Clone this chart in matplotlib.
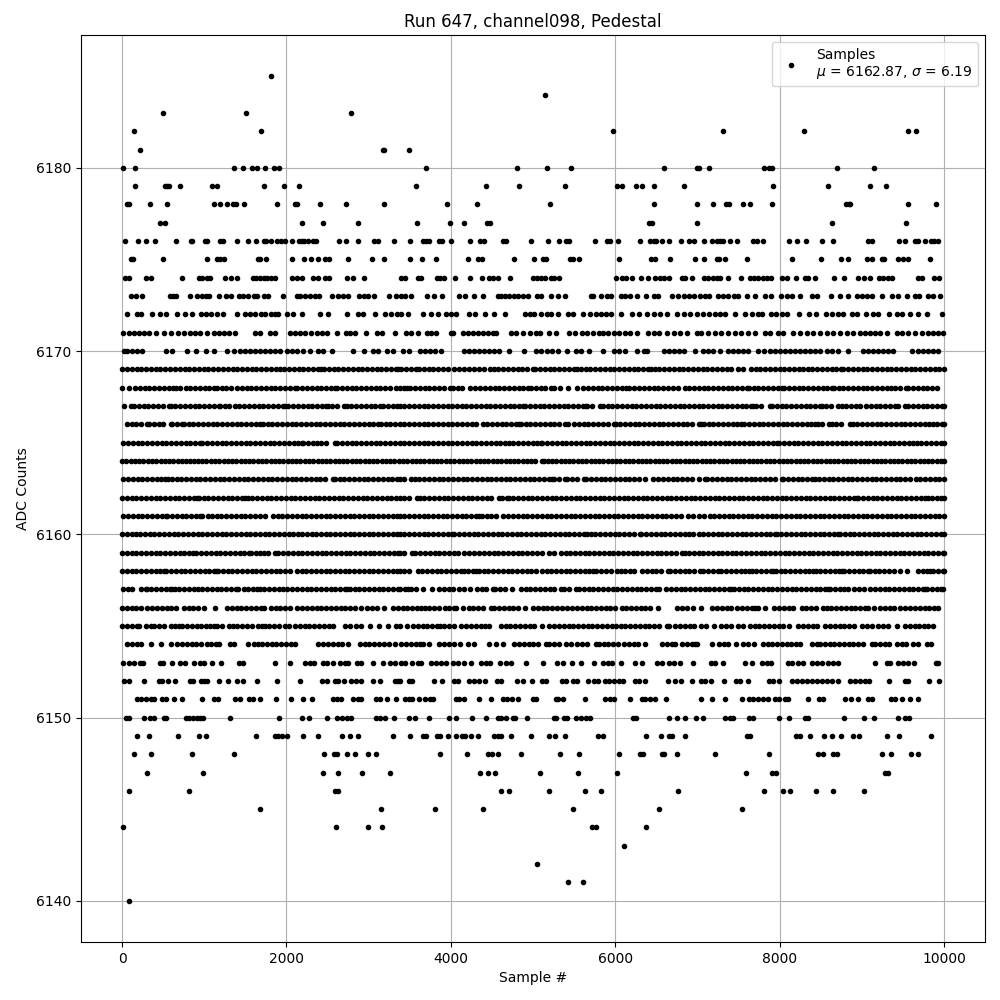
# -*- coding: utf-8 -*-
import matplotlib
matplotlib.use("Agg")
import matplotlib.pyplot as plt

# sample numbers, one list per ADC level
x_185 = [1806]
x_184 = [5151]
x_183 = [497, 1503, 2788]
x_182 = [145, 1685, 5976, 7318, 8292, 9567, 9656]
x_181 = [218, 3171, 3185, 3491]
x_180 = [12, 158, 1357, 1470, 1576, 1640, 1745, 1850, 1907, 3697, 4800, 5176, 5467, 6594, 7001, 7017, 7147, 7813, 7874, 7903, 8694, 9145]
x_179 = [158, 517, 541, 566, 703, 1091, 1151, 1721, 1976, 2157, 3576, 4424, 4824, 5394, 6024, 6077, 6254, 6327, 6472, 6836, 7915, 8585, 9096, 9291]
x_178 = [57, 89, 339, 545, 1115, 1188, 1273, 1345, 1382, 1479, 1879, 2105, 2133, 2412, 2727, 3188, 3952, 4315, 5212, 6472, 6994, 7196, 7354, 7391, 7557, 7635, 7903, 8808, 8840, 8857, 9567, 9900]
x_177 = [461, 521, 2194, 2448, 2872, 3588, 3988, 4158, 4436, 4477, 6408, 6448, 6994, 8633, 9535]
x_176 = [36, 194, 291, 400, 654, 840, 856, 1006, 1034, 1196, 1228, 1394, 1527, 1624, 1721, 1749, 1806, 1879, 1931, 1988, 2073, 2153, 2186, 2214, 2266, 2327, 2359, 2642, 2719, 2872, 3062, 3115, 3309, 3503, 3661, 3701, 3733, 3855, 3891, 4000, 4230, 4351, 4408, 4630, 4671, 4970, 5184, 5321, 5398, 5438, 5757, 5903, 5931, 6036, 6303, 6428, 6468, 6497, 6570, 6654, 6800, 6901, 6953, 7082, 7180, 7233, 7273, 7314, 7403, 7488, 7679, 7720, 7801, 8118, 8207, 8325, 8512, 8646, 9080, 9120, 9457, 9527, 9648, 9689, 9770, 9843, 9884, 9933]
x_175 = [105, 137, 497, 1030, 1155, 1196, 1244, 1648, 1681, 1757, 2073, 2218, 2303, 2388, 2473, 2521, 2751, 3042, 3188, 3503, 3648, 3818, 4206, 4327, 4380, 4764, 5018, 5123, 5155, 5446, 5487, 5559, 6048, 6436, 6489, 6666, 6973, 7086, 7245, 7261, 7342, 7610, 8146, 8499, 8743, 8828, 9068, 9120, 9243, 9272, 9437, 9506, 9567, 9831]
x_174 = [32, 85, 287, 356, 735, 933, 974, 1034, 1075, 1248, 1321, 1394, 1592, 1632, 1673, 1721, 1761, 1810, 1862, 2073, 2133, 2186, 2319, 2388, 2473, 2521, 2739, 2812, 2941, 3398, 3438, 3600, 3640, 3830, 3871, 3923, 4048, 4230, 4376, 4461, 4509, 4574, 4715, 5006, 5054, 5095, 5143, 5216, 5256, 5317, 6012, 6085, 6137, 6206, 6315, 6400, 6481, 6549, 6598, 6654, 6812, 6853, 6933, 7082, 7131, 7192, 7233, 7281, 7367, 7529, 7639, 7687, 7740, 7801, 7842, 7894, 8024, 8085, 8195, 8309, 8349, 8426, 8658, 8784, 8950, 9023, 9096, 9210, 9263, 9324, 9372, 9681, 9730, 9876, 9941]
x_173 = [113, 166, 242, 582, 622, 654, 824, 913, 978, 1018, 1058, 1176, 1260, 1325, 1418, 1470, 1527, 1600, 1640, 1721, 1774, 1963, 2125, 2165, 2230, 2287, 2347, 2400, 2557, 2630, 2683, 2751, 2885, 2941, 2998, 3062, 3248, 3337, 3398, 3438, 3519, 3709, 3794, 3891, 4105, 4178, 4279, 4388, 4570, 4614, 4663, 4711, 4764, 4816, 4881, 4941, 5054, 5095, 5224, 5309, 5386, 5701, 5729, 5830, 5903, 5951, 6065, 6117, 6186, 6262, 6376, 6468, 6521, 6691, 6763, 6832, 6901, 6953, 7030, 7091, 7139, 7253, 7314, 7367, 7448, 7497, 7598, 7699, 7829, 7894, 8016, 8085, 8154, 8248, 8398, 8451, 8621, 8735, 8828, 8938, 8999, 9060, 9129, 9243, 9372, 9437, 9547, 9648, 9697, 9803, 9872, 9953]
x_172 = [65, 178, 226, 360, 461, 533, 667, 764, 852, 966, 1026, 1087, 1155, 1224, 1394, 1491, 1559, 1620, 1689, 1741, 1814, 1862, 1903, 2012, 2077, 2186, 2412, 2509, 2739, 2872, 2933, 3078, 3196, 3277, 3349, 3398, 3479, 3661, 3754, 3842, 3943, 4004, 4065, 4218, 4291, 4420, 4521, 4663, 4905, 4962, 5014, 5103, 5176, 5224, 5309, 5430, 5487, 5612, 5697, 5770, 5830, 5891, 5955, 6065, 6206, 6287, 6388, 6468, 6549, 6630, 6751, 6832, 6913, 6994, 7070, 7139, 7212, 7273, 7342, 7464, 7578, 7659, 7740, 7789, 7894, 7951, 8024, 8085, 8231, 8353, 8438, 8560, 8633, 8706, 8775, 8877, 8938, 9048, 9141, 9202, 9328, 9425, 9486, 9587, 9681, 9791, 9973]
x_171 = [16, 85, 145, 206, 267, 327, 408, 509, 590, 679, 751, 824, 893, 953, 1034, 1115, 1176, 1236, 1297, 1370, 1620, 1673, 1794, 1866, 2044, 2105, 2165, 2226, 2295, 2367, 2428, 2489, 2618, 2719, 2771, 2840, 2965, 3103, 3167, 3325, 3451, 3519, 3600, 3709, 3762, 3822, 4004, 4024, 4145, 4206, 4267, 4327, 4388, 4449, 4509, 4549, 4731, 4792, 4881, 4966, 5034, 5083, 5196, 5277, 5438, 5507, 5592, 5660, 5729, 5802, 5850, 5915, 5984, 6044, 6125, 6186, 6267, 6396, 6468, 6529, 6630, 6711, 6792, 6873, 6994, 7050, 7131, 7212, 7293, 7375, 7456, 7537, 7618, 7699, 7829, 7881, 7984, 8045, 8166, 8248, 8329, 8410, 8491, 8572, 8654, 8735, 8816, 8897, 8978, 9039, 9100, 9161, 9222, 9303, 9425, 9486, 9567, 9648, 9730, 9811, 9872, 9933, 9994]
x_170 = [24, 65, 125, 186, 246, 537, 610, 792, 897, 1022, 1115, 1277, 1357, 1438, 1499, 1559, 1620, 1681, 1741, 1802, 1862, 1923, 2004, 2064, 2125, 2206, 2287, 2388, 2448, 2557, 2812, 2941, 3054, 3115, 3224, 3297, 3418, 3491, 3620, 3681, 3741, 3802, 3879, 4166, 4226, 4287, 4347, 4408, 4469, 4529, 4590, 4711, 4889, 5034, 5095, 5176, 5236, 5309, 5418, 5527, 5580, 5685, 5854, 5984, 6044, 6125, 6267, 6347, 6388, 6590, 6650, 6711, 6771, 6832, 6973, 7070, 7131, 7192, 7273, 7375, 7432, 7497, 7557, 7618, 7740, 7813, 7882, 7943, 8004, 8065, 8126, 8187, 8248, 8309, 8369, 8430, 8491, 8572, 8633, 8715, 8836, 9019, 9080, 9141, 9202, 9263, 9324, 9384, 9616, 9689, 9750, 9811, 9872, 9933]
x_169 = [0, 58, 117, 176, 230, 291, 349, 410, 466, 527, 586, 640, 702, 760, 815, 876, 933, 994, 1050, 1108, 1170, 1226, 1284, 1345, 1400, 1462, 1518, 1578, 1635, 1694, 1751, 1812, 1870, 1923, 1971, 2030, 2086, 2147, 2205, 2262, 2320, 2378, 2416, 2456, 2515, 2575, 2632, 2690, 2748, 2806, 2866, 2923, 2980, 3040, 3098, 3155, 3214, 3272, 3330, 3357, 3398, 3455, 3510, 3580, 3612, 3670, 3729, 3786, 3846, 3905, 3960, 4044, 4097, 4166, 4225, 4282, 4340, 4400, 4477, 4521, 4580, 4636, 4695, 4754, 4812, 4870, 4930, 4994, 5026, 5085, 5143, 5202, 5260, 5320, 5378, 5436, 5495, 5539, 5580, 5640, 5698, 5756, 5815, 5872, 5932, 5990, 6048, 6106, 6165, 6224, 6282, 6340, 6400, 6440, 6480, 6538, 6597, 6655, 6714, 6772, 6830, 6888, 6947, 7005, 7064, 7122, 7180, 7238, 7297, 7356, 7414, 7497, 7557, 7651, 7710, 7768, 7826, 7884, 7942, 8000, 8060, 8118, 8177, 8235, 8284, 8341, 8400, 8458, 8516, 8575, 8633, 8691, 8747, 8775, 8834, 8892, 8950, 9010, 9068, 9126, 9185, 9243, 9302, 9360, 9418, 9477, 9535, 9594, 9652, 9710, 9770, 9828, 9886, 9945, 10000]
x_168 = [4, 85, 158, 216, 274, 333, 392, 450, 508, 566, 625, 650, 699, 772, 830, 888, 946, 1005, 1063, 1122, 1155, 1216, 1260, 1325, 1398, 1456, 1514, 1572, 1630, 1690, 1748, 1806, 1865, 1923, 1982, 2040, 2105, 2133, 2192, 2250, 2310, 2368, 2426, 2484, 2542, 2590, 2618, 2676, 2735, 2793, 2852, 2910, 2968, 3027, 3085, 3144, 3202, 3264, 3329, 3378, 3430, 3467, 3507, 3566, 3624, 3682, 3740, 3800, 3858, 3916, 3984, 4024, 4082, 4140, 4234, 4299, 4358, 4416, 4474, 4532, 4590, 4650, 4708, 4766, 4825, 4883, 4941, 4974, 5034, 5092, 5150, 5216, 5260, 5333, 5430, 5539, 5612, 5670, 5728, 5787, 5845, 5904, 5962, 6020, 6078, 6136, 6174, 6234, 6292, 6350, 6408, 6467, 6526, 6584, 6642, 6700, 6763, 6844, 6902, 6960, 7018, 7077, 7135, 7194, 7252, 7310, 7368, 7426, 7485, 7543, 7598, 7626, 7685, 7743, 7802, 7860, 7918, 7976, 8032, 8057, 8116, 8174, 8232, 8290, 8350, 8408, 8466, 8524, 8583, 8641, 8662, 8720, 8778, 8838, 8896, 8954, 9012, 9070, 9130, 9188, 9246, 9304, 9356, 9405, 9460, 9535, 9567, 9626, 9684, 9742, 9800, 9860, 9912]
x_167 = [24, 105, 145, 204, 262, 320, 378, 437, 496, 570, 590, 648, 706, 765, 824, 882, 940, 998, 1057, 1115, 1176, 1196, 1250, 1297, 1370, 1428, 1487, 1545, 1604, 1662, 1720, 1778, 1836, 1895, 1953, 1984, 2024, 2082, 2140, 2199, 2258, 2316, 2374, 2432, 2481, 2501, 2560, 2618, 2703, 2731, 2790, 2848, 2906, 2965, 3023, 3082, 3135, 3176, 3234, 3292, 3350, 3378, 3436, 3494, 3552, 3610, 3669, 3728, 3786, 3844, 3902, 3960, 4016, 4073, 4132, 4190, 4248, 4306, 4365, 4424, 4482, 4540, 4598, 4656, 4715, 4773, 4832, 4873, 4905, 4964, 5022, 5080, 5138, 5197, 5256, 5314, 5372, 5430, 5488, 5547, 5606, 5640, 5660, 5720, 5810, 5850, 5908, 5966, 6025, 6084, 6142, 6200, 6258, 6316, 6375, 6434, 6492, 6550, 6608, 6666, 6725, 6784, 6842, 6900, 6958, 7014, 7072, 7130, 7188, 7246, 7305, 7364, 7422, 7480, 7538, 7596, 7655, 7679, 7711, 7770, 7882, 7910, 7968, 8026, 8084, 8142, 8200, 8260, 8318, 8376, 8434, 8491, 8512, 8570, 8628, 8715, 8755, 8813, 8872, 8930, 8978, 9052, 9110, 9168, 9226, 9284, 9342, 9400, 9445, 9527, 9567, 9626, 9684, 9742, 9800, 9858, 9916, 9975, 10000]
x_166 = [57, 115, 174, 232, 307, 327, 386, 444, 502, 590, 610, 668, 723, 751, 810, 868, 926, 985, 1044, 1102, 1160, 1218, 1276, 1335, 1394, 1452, 1510, 1568, 1626, 1681, 1713, 1772, 1830, 1888, 1946, 2005, 2064, 2122, 2180, 2238, 2296, 2355, 2414, 2472, 2530, 2588, 2646, 2705, 2764, 2822, 2880, 2938, 3006, 3054, 3115, 3147, 3206, 3264, 3322, 3378, 3436, 3495, 3554, 3612, 3670, 3728, 3786, 3845, 3904, 3962, 4020, 4078, 4136, 4195, 4254, 4312, 4388, 4436, 4501, 4560, 4618, 4676, 4734, 4792, 4824, 4852, 4910, 4968, 5026, 5085, 5144, 5202, 5260, 5318, 5390, 5422, 5499, 5558, 5616, 5674, 5732, 5790, 5850, 5908, 5984, 6004, 6062, 6120, 6178, 6236, 6295, 6354, 6412, 6470, 6528, 6586, 6645, 6704, 6762, 6820, 6878, 6936, 7014, 7042, 7078, 7136, 7194, 7252, 7310, 7369, 7428, 7486, 7537, 7570, 7628, 7686, 7744, 7802, 7860, 7920, 7978, 8036, 8094, 8152, 8211, 8270, 8328, 8386, 8430, 8463, 8522, 8601, 8633, 8692, 8750, 8857, 8889, 8948, 9006, 9064, 9122, 9180, 9240, 9298, 9356, 9414, 9472, 9530, 9590, 9648, 9706, 9764, 9819, 9864, 9922, 9980, 10000]
x_165 = [16, 74, 132, 190, 248, 306, 365, 424, 482, 540, 598, 656, 715, 774, 832, 890, 953, 978, 1036, 1095, 1154, 1212, 1270, 1328, 1386, 1445, 1504, 1562, 1620, 1678, 1736, 1795, 1854, 1912, 1970, 2028, 2086, 2145, 2186, 2206, 2265, 2319, 2367, 2426, 2484, 2590, 2618, 2676, 2734, 2793, 2852, 2910, 2968, 3026, 3084, 3143, 3202, 3260, 3318, 3378, 3436, 3495, 3554, 3612, 3670, 3728, 3786, 3845, 3904, 3962, 4020, 4078, 4136, 4195, 4254, 4312, 4370, 4428, 4486, 4545, 4604, 4663, 4703, 4762, 4820, 4878, 4936, 4995, 5054, 5095, 5115, 5174, 5232, 5290, 5348, 5406, 5465, 5524, 5582, 5640, 5698, 5756, 5815, 5874, 5932, 5990, 6048, 6106, 6165, 6224, 6282, 6340, 6398, 6456, 6515, 6574, 6632, 6690, 6748, 6806, 6865, 6924, 6982, 7040, 7098, 7156, 7215, 7274, 7332, 7390, 7448, 7506, 7565, 7624, 7682, 7740, 7798, 7856, 7915, 7963, 7996, 8055, 8114, 8172, 8230, 8288, 8346, 8405, 8464, 8522, 8580, 8638, 8696, 8755, 8814, 8872, 8930, 8988, 9046, 9105, 9164, 9222, 9280, 9338, 9396, 9455, 9514, 9572, 9628, 9668, 9726, 9785, 9844, 9902, 9960, 10000]
x_164 = [0, 52, 104, 156, 208, 260, 312, 364, 416, 468, 520, 572, 624, 676, 728, 780, 832, 870, 922, 974, 1026, 1078, 1130, 1182, 1234, 1286, 1338, 1390, 1442, 1494, 1546, 1598, 1650, 1702, 1754, 1806, 1858, 1910, 1962, 2014, 2066, 2118, 2170, 2222, 2274, 2326, 2378, 2430, 2482, 2534, 2586, 2638, 2690, 2742, 2794, 2846, 2898, 2950, 3002, 3054, 3106, 3158, 3210, 3262, 3314, 3366, 3418, 3470, 3522, 3574, 3626, 3678, 3730, 3782, 3834, 3886, 3938, 3990, 4042, 4094, 4146, 4198, 4250, 4302, 4354, 4406, 4458, 4510, 4562, 4614, 4666, 4718, 4770, 4822, 4874, 4926, 4978, 5030, 5105, 5128, 5180, 5232, 5284, 5336, 5388, 5440, 5492, 5544, 5596, 5648, 5700, 5752, 5804, 5856, 5908, 5960, 6012, 6064, 6116, 6168, 6220, 6272, 6324, 6376, 6428, 6480, 6532, 6584, 6636, 6688, 6740, 6792, 6844, 6896, 6948, 7000, 7052, 7104, 7156, 7208, 7260, 7312, 7364, 7416, 7468, 7520, 7572, 7624, 7676, 7728, 7780, 7832, 7884, 7936, 7988, 8040, 8092, 8144, 8196, 8248, 8300, 8352, 8404, 8456, 8508, 8560, 8612, 8664, 8716, 8768, 8820, 8872, 8924, 8976, 9028, 9080, 9132, 9184, 9236, 9288, 9340, 9392, 9444, 9496, 9548, 9600, 9652, 9704, 9756, 9808, 9860, 9912, 9964, 10000]
x_163 = [16, 74, 132, 190, 248, 306, 365, 424, 469, 517, 560, 610, 663, 721, 780, 838, 896, 954, 1012, 1070, 1129, 1188, 1246, 1304, 1362, 1420, 1479, 1538, 1596, 1654, 1712, 1770, 1829, 1888, 1946, 2004, 2062, 2120, 2179, 2238, 2296, 2354, 2412, 2470, 2561, 2590, 2648, 2706, 2765, 2824, 2882, 2940, 2998, 3056, 3115, 3174, 3232, 3290, 3348, 3378, 3436, 3519, 3560, 3618, 3676, 3735, 3794, 3852, 3910, 3968, 4026, 4085, 4144, 4202, 4260, 4318, 4376, 4435, 4494, 4552, 4610, 4668, 4726, 4785, 4844, 4902, 4960, 5018, 5076, 5135, 5194, 5236, 5256, 5316, 5386, 5418, 5476, 5534, 5620, 5648, 5706, 5764, 5822, 5880, 5939, 5998, 6056, 6114, 6172, 6230, 6289, 6367, 6465, 6524, 6582, 6640, 6698, 6756, 6815, 6874, 6932, 7014, 7091, 7123, 7182, 7240, 7298, 7356, 7414, 7473, 7532, 7590, 7648, 7706, 7764, 7823, 7882, 7940, 8024, 8045, 8104, 8162, 8220, 8278, 8336, 8390, 8430, 8479, 8538, 8596, 8654, 8712, 8770, 8828, 8887, 8946, 9004, 9062, 9120, 9178, 9237, 9296, 9354, 9412, 9470, 9528, 9587, 9656, 9714, 9772, 9830, 9888, 9946, 10000]
x_162 = [0, 58, 116, 174, 232, 290, 349, 408, 466, 524, 582, 640, 698, 757, 816, 874, 913, 933, 992, 1050, 1108, 1166, 1224, 1283, 1342, 1400, 1458, 1499, 1527, 1586, 1644, 1702, 1760, 1818, 1877, 1936, 1994, 2052, 2110, 2168, 2227, 2286, 2344, 2402, 2460, 2518, 2577, 2636, 2694, 2752, 2810, 2868, 2927, 2986, 3044, 3102, 3160, 3218, 3277, 3336, 3378, 3436, 3494, 3588, 3620, 3678, 3736, 3795, 3854, 3912, 3970, 4028, 4086, 4145, 4204, 4262, 4320, 4378, 4436, 4495, 4582, 4622, 4680, 4711, 4760, 4818, 4876, 4934, 4993, 5052, 5110, 5168, 5226, 5284, 5343, 5402, 5460, 5518, 5576, 5634, 5693, 5752, 5810, 5868, 5926, 5984, 6043, 6102, 6160, 6218, 6276, 6334, 6393, 6452, 6510, 6568, 6626, 6684, 6743, 6802, 6860, 6918, 6976, 7034, 7093, 7152, 7210, 7268, 7326, 7384, 7443, 7502, 7560, 7618, 7676, 7734, 7793, 7852, 7910, 7968, 8026, 8084, 8143, 8202, 8260, 8318, 8376, 8434, 8493, 8552, 8610, 8668, 8726, 8784, 8843, 8902, 8938, 8958, 9016, 9074, 9132, 9191, 9250, 9308, 9366, 9424, 9482, 9541, 9600, 9658, 9716, 9774, 9803, 9852, 9910, 9968, 10000]
x_161 = [16, 74, 132, 190, 248, 306, 365, 424, 482, 529, 549, 608, 666, 724, 782, 840, 899, 953, 974, 1042, 1091, 1150, 1208, 1266, 1324, 1382, 1441, 1500, 1558, 1616, 1681, 1741, 1834, 1892, 1950, 2009, 2068, 2126, 2184, 2242, 2300, 2359, 2418, 2476, 2534, 2592, 2650, 2709, 2768, 2826, 2884, 2942, 3000, 3059, 3118, 3176, 3234, 3292, 3350, 3378, 3436, 3494, 3552, 3611, 3670, 3728, 3782, 3840, 3899, 3958, 4016, 4074, 4132, 4190, 4249, 4308, 4347, 4376, 4435, 4494, 4552, 4630, 4699, 4758, 4816, 4874, 4932, 4990, 5049, 5108, 5166, 5224, 5282, 5340, 5399, 5458, 5516, 5574, 5632, 5690, 5749, 5808, 5866, 5924, 5982, 6040, 6099, 6158, 6216, 6274, 6332, 6390, 6449, 6508, 6566, 6624, 6682, 6740, 6800, 6880, 6950, 7020, 7078, 7151, 7204, 7262, 7320, 7379, 7438, 7496, 7554, 7612, 7670, 7729, 7788, 7846, 7904, 7962, 8020, 8079, 8138, 8196, 8254, 8312, 8370, 8429, 8488, 8546, 8604, 8662, 8720, 8779, 8838, 8896, 8954, 9012, 9070, 9129, 9188, 9246, 9304, 9362, 9420, 9479, 9538, 9596, 9654, 9712, 9770, 9829, 9888, 9946, 10000]
x_160 = [0, 58, 125, 166, 218, 276, 334, 393, 452, 510, 568, 626, 684, 743, 802, 860, 918, 976, 1034, 1093, 1152, 1210, 1268, 1326, 1384, 1443, 1502, 1560, 1618, 1676, 1734, 1793, 1852, 1910, 1968, 2026, 2084, 2145, 2186, 2250, 2311, 2359, 2418, 2476, 2534, 2592, 2650, 2709, 2768, 2826, 2884, 2942, 3000, 3059, 3118, 3176, 3234, 3292, 3350, 3378, 3436, 3495, 3554, 3612, 3670, 3728, 3786, 3845, 3904, 3962, 4016, 4044, 4102, 4160, 4219, 4278, 4336, 4394, 4452, 4510, 4569, 4628, 4686, 4744, 4802, 4860, 4919, 4978, 5036, 5094, 5152, 5210, 5269, 5328, 5386, 5444, 5502, 5560, 5619, 5660, 5701, 5760, 5818, 5876, 5934, 5993, 6052, 6110, 6168, 6226, 6307, 6319, 6378, 6436, 6494, 6552, 6610, 6669, 6728, 6786, 6852, 6893, 6951, 7014, 7072, 7130, 7188, 7246, 7305, 7364, 7422, 7480, 7538, 7596, 7655, 7714, 7772, 7830, 7888, 7943, 7963, 8022, 8080, 8138, 8196, 8255, 8314, 8372, 8430, 8488, 8546, 8605, 8664, 8706, 8735, 8794, 8852, 8910, 8968, 9026, 9085, 9144, 9202, 9260, 9318, 9376, 9435, 9494, 9552, 9610, 9668, 9726, 9785, 9844, 9902, 9960, 10000]
x_159 = [0, 58, 116, 174, 232, 291, 350, 408, 466, 524, 582, 641, 700, 758, 816, 865, 905, 964, 1022, 1080, 1138, 1197, 1256, 1314, 1372, 1430, 1488, 1539, 1568, 1626, 1684, 1721, 1774, 1862, 1903, 1962, 2020, 2078, 2136, 2195, 2254, 2312, 2370, 2428, 2486, 2545, 2604, 2662, 2720, 2778, 2836, 2895, 2954, 3012, 3070, 3128, 3186, 3245, 3304, 3362, 3378, 3436, 3531, 3568, 3626, 3684, 3743, 3802, 3860, 3918, 3976, 4034, 4093, 4166, 4218, 4287, 4346, 4404, 4462, 4520, 4578, 4637, 4696, 4754, 4812, 4870, 4928, 4987, 5046, 5104, 5196, 5256, 5337, 5396, 5454, 5512, 5570, 5628, 5687, 5746, 5804, 5862, 5920, 5978, 6037, 6096, 6154, 6212, 6270, 6328, 6387, 6446, 6504, 6562, 6620, 6678, 6737, 6812, 6844, 6902, 6960, 7014, 7072, 7130, 7188, 7246, 7305, 7364, 7422, 7468, 7537, 7596, 7654, 7712, 7770, 7828, 7887, 7946, 8004, 8062, 8120, 8178, 8237, 8296, 8354, 8412, 8470, 8528, 8587, 8646, 8704, 8762, 8820, 8878, 8937, 8996, 9054, 9112, 9170, 9228, 9287, 9346, 9404, 9462, 9520, 9578, 9637, 9696, 9754, 9812, 9870, 9928, 9987, 10000]
x_158 = [0, 58, 116, 174, 232, 290, 349, 408, 466, 509, 537, 596, 654, 712, 770, 828, 887, 946, 1004, 1062, 1120, 1147, 1168, 1226, 1284, 1342, 1401, 1460, 1518, 1576, 1634, 1692, 1751, 1810, 1868, 1926, 1984, 2044, 2125, 2184, 2242, 2300, 2358, 2417, 2476, 2534, 2592, 2650, 2708, 2767, 2826, 2884, 2942, 3000, 3058, 3117, 3176, 3234, 3292, 3350, 3378, 3436, 3494, 3600, 3653, 3712, 3770, 3828, 3886, 3945, 4004, 4062, 4120, 4166, 4206, 4265, 4307, 4339, 4398, 4456, 4514, 4572, 4631, 4690, 4748, 4806, 4864, 4922, 4981, 5034, 5107, 5166, 5224, 5285, 5337, 5396, 5454, 5512, 5570, 5628, 5687, 5733, 5770, 5828, 5886, 5945, 6024, 6065, 6124, 6186, 6234, 6327, 6386, 6444, 6502, 6560, 6642, 6670, 6729, 6788, 6846, 6904, 6962, 7030, 7070, 7128, 7186, 7253, 7293, 7352, 7410, 7468, 7526, 7584, 7626, 7659, 7718, 7776, 7834, 7892, 7923, 7955, 8014, 8072, 8130, 8188, 8246, 8305, 8364, 8410, 8438, 8496, 8554, 8612, 8670, 8729, 8755, 8788, 8846, 8904, 8962, 9020, 9072, 9100, 9158, 9216, 9275, 9334, 9392, 9466, 9547, 9681, 9740, 9798, 9831, 9872, 9930, 9988, 10000]
x_157 = [16, 70, 125, 226, 285, 307, 355, 414, 472, 530, 588, 610, 638, 696, 754, 812, 870, 929, 974, 1034, 1092, 1150, 1208, 1267, 1326, 1384, 1406, 1479, 1538, 1596, 1640, 1673, 1732, 1790, 1848, 1906, 1955, 2012, 2070, 2128, 2186, 2246, 2304, 2362, 2420, 2478, 2537, 2596, 2654, 2712, 2731, 2771, 2830, 2888, 2946, 3004, 3062, 3121, 3180, 3238, 3297, 3355, 3378, 3437, 3479, 3519, 3578, 3661, 3774, 3855, 3914, 3972, 4030, 4097, 4158, 4234, 4315, 4374, 4432, 4509, 4541, 4600, 4658, 4743, 4852, 4910, 4968, 5026, 5085, 5144, 5202, 5260, 5337, 5378, 5436, 5519, 5560, 5618, 5676, 5734, 5793, 5852, 5910, 5968, 6026, 6084, 6143, 6202, 6260, 6318, 6376, 6434, 6493, 6529, 6622, 6680, 6738, 6796, 6855, 6914, 6972, 7030, 7088, 7146, 7205, 7264, 7322, 7380, 7415, 7448, 7506, 7564, 7622, 7681, 7740, 7798, 7856, 7914, 7972, 8031, 8090, 8148, 8206, 8264, 8322, 8381, 8440, 8498, 8556, 8593, 8613, 8672, 8730, 8788, 8836, 8905, 8964, 9022, 9100, 9161, 9220, 9278, 9336, 9394, 9452, 9511, 9570, 9628, 9686, 9744, 9770, 9795, 9854, 9912, 9970, 9994]
x_156 = [0, 58, 116, 174, 232, 307, 368, 426, 484, 542, 598, 654, 751, 810, 868, 926, 994, 1131, 1277, 1336, 1394, 1452, 1510, 1569, 1628, 1686, 1721, 1810, 1868, 1926, 1984, 2044, 2133, 2192, 2250, 2308, 2366, 2425, 2484, 2542, 2600, 2658, 2716, 2775, 2834, 2913, 2981, 3040, 3103, 3188, 3297, 3356, 3414, 3472, 3530, 3589, 3640, 3681, 3740, 3798, 3856, 3931, 3976, 4034, 4065, 4145, 4226, 4275, 4334, 4392, 4489, 4529, 4588, 4646, 4704, 4762, 4820, 4905, 5002, 5060, 5118, 5176, 5235, 5294, 5358, 5418, 5476, 5534, 5592, 5651, 5710, 5768, 5826, 5884, 5942, 5996, 6077, 6136, 6194, 6252, 6310, 6368, 6427, 6521, 6751, 6810, 6868, 6941, 7050, 7180, 7239, 7298, 7356, 7415, 7488, 7546, 7604, 7662, 7699, 7740, 7829, 7935, 7994, 8052, 8110, 8166, 8268, 8326, 8385, 8444, 8532, 8572, 8630, 8688, 8746, 8805, 8864, 8922, 8980, 9038, 9080, 9145, 9222, 9280, 9338, 9396, 9466, 9527, 9587, 9648, 9706, 9764, 9822, 9880, 9925]
x_155 = [4, 62, 120, 178, 206, 287, 347, 388, 446, 504, 590, 638, 691, 731, 790, 848, 906, 964, 1022, 1075, 1115, 1155, 1216, 1297, 1345, 1398, 1456, 1514, 1580, 1648, 1706, 1741, 1790, 1848, 1906, 1984, 2036, 2105, 2164, 2222, 2280, 2338, 2396, 2455, 2514, 2570, 2711, 2770, 2852, 2913, 3014, 3127, 3236, 3337, 3378, 3467, 3539, 3598, 3656, 3714, 3772, 3830, 3871, 3923, 3982, 4040, 4125, 4186, 4246, 4305, 4364, 4422, 4469, 4610, 4668, 4726, 4785, 4844, 4902, 4960, 5018, 5115, 5196, 5256, 5315, 5374, 5432, 5490, 5548, 5607, 5666, 5724, 5782, 5840, 5898, 5957, 6016, 6065, 6125, 6184, 6242, 6300, 6358, 6416, 6475, 6534, 6630, 6654, 6731, 6790, 6848, 6906, 6953, 7050, 7108, 7204, 7293, 7352, 7415, 7497, 7557, 7639, 7698, 7756, 7814, 7872, 7930, 7989, 8045, 8114, 8227, 8286, 8344, 8402, 8460, 8552, 8613, 8672, 8730, 8788, 8846, 8904, 8999, 9060, 9120, 9202, 9260, 9324, 9425, 9527, 9586, 9644, 9702, 9760, 9811, 9872]
x_154 = [65, 124, 182, 226, 347, 469, 598, 671, 730, 788, 846, 904, 962, 1034, 1083, 1142, 1176, 1309, 1357, 1531, 1600, 1658, 1701, 1762, 1820, 1878, 1936, 1995, 2054, 2105, 2388, 2446, 2505, 2564, 2622, 2680, 2751, 2893, 2952, 3010, 3068, 3126, 3185, 3244, 3317, 3398, 3456, 3514, 3572, 3620, 3661, 3733, 3855, 3914, 3976, 4036, 4117, 4206, 4287, 4469, 4549, 4634, 4772, 4830, 4888, 4946, 5005, 5064, 5155, 5196, 5254, 5312, 5398, 5458, 5539, 5600, 5658, 5762, 5802, 5860, 5918, 5976, 6035, 6105, 6166, 6224, 6282, 6368, 6569, 6628, 6686, 6731, 6812, 6873, 6932, 6969, 6994, 7184, 7261, 7320, 7378, 7476, 7557, 7616, 7691, 7793, 7854, 7912, 7970, 8028, 8086, 8145, 8204, 8248, 8390, 8451, 8491, 8550, 8608, 8666, 8724, 8782, 8841, 8897, 8958, 9016, 9120, 9161, 9220, 9278, 9336, 9425, 9486, 9544, 9628, 9689, 9791, 9843]
x_153 = [12, 85, 145, 218, 259, 461, 501, 606, 703, 764, 869, 953, 1002, 1091, 1200, 1418, 1470, 1866, 2048, 2226, 2287, 2335, 2440, 2489, 2570, 2650, 2711, 2751, 2860, 2913, 3054, 3171, 3256, 3317, 3398, 3438, 3527, 3600, 3640, 3762, 3822, 3883, 3943, 4024, 4085, 4166, 4246, 4368, 4428, 4477, 4594, 4671, 4731, 4909, 5127, 5297, 5366, 5479, 5580, 5741, 5854, 5911, 5963, 6065, 6242, 6327, 6509, 6569, 6650, 6711, 6792, 6945, 7172, 7212, 7318, 7574, 7659, 7789, 7842, 7894, 8097, 8154, 8219, 8288, 8398, 8451, 8512, 8585, 8654, 8715, 9157, 9303, 9344, 9445, 9506, 9567, 9640, 9900, 9933]
x_152 = [24, 85, 267, 449, 481, 562, 642, 824, 865, 962, 1002, 1034, 1176, 1285, 1394, 1475, 1636, 1879, 2170, 2432, 2497, 2590, 2630, 2699, 2780, 2844, 2913, 3054, 3139, 3317, 3357, 3378, 3491, 3531, 3794, 3891, 4044, 4085, 4226, 4287, 4347, 4412, 4557, 4610, 4800, 4873, 4990, 5107, 5155, 5358, 5398, 5487, 5531, 5673, 5741, 5790, 5871, 5923, 5984, 6044, 6093, 6246, 6287, 6368, 6642, 6731, 6800, 6940, 7050, 7099, 7160, 7322, 7476, 7517, 7618, 7874, 7923, 7992, 8146, 8207, 8268, 8329, 8390, 8451, 8512, 8572, 8633, 8715, 8857, 8918, 8978, 9039, 9092, 9336, 9527, 9567, 9815, 9937]
x_151 = [186, 226, 295, 347, 388, 489, 537, 630, 727, 974, 1115, 1164, 1378, 1430, 1539, 1588, 1673, 1875, 2060, 2206, 2315, 2570, 2610, 2658, 2812, 2873, 2913, 3095, 3135, 3224, 3329, 3438, 3487, 3531, 3612, 3681, 3741, 3782, 4065, 4097, 4158, 4339, 4485, 4630, 4679, 4743, 4812, 5002, 5034, 5277, 5309, 5366, 5636, 5879, 5943, 5984, 6182, 6327, 6359, 6428, 6481, 6618, 7050, 7184, 7342, 7549, 7626, 7679, 7740, 7801, 7862, 7943, 7992, 8065, 8106, 8341, 8483, 8532, 8791, 8865, 8958, 9072, 9120, 9352, 9405, 9486, 9583, 9681]
x_150 = [44, 85, 267, 339, 388, 509, 537, 772, 812, 865, 913, 953, 982, 1313, 1915, 2194, 2279, 2489, 2610, 2679, 2731, 2780, 3095, 3143, 3196, 3305, 3491, 3560, 3733, 3976, 4065, 4255, 4428, 4570, 4610, 4671, 4751, 4784, 4921, 5256, 5285, 5378, 5418, 5519, 5580, 5640, 5689, 6222, 6258, 6654, 6751, 6848, 6989, 7074, 7334, 7395, 7436, 7630, 7679, 7988, 8110, 8309, 8341, 8780, 9023, 9145, 9437, 9527, 9575]
x_149 = [182, 331, 679, 933, 1018, 1624, 1862, 1895, 1943, 2012, 2206, 2380, 2679, 2771, 2873, 3297, 3503, 3661, 3693, 3830, 3863, 3964, 4060, 4133, 4174, 4242, 4327, 4529, 4570, 4610, 4727, 4970, 5200, 5273, 5394, 5794, 5854, 6376, 6557, 6650, 6691, 6852, 7598, 7639, 8195, 8248, 8365, 8536, 8633, 8743, 8897, 8966, 9303, 9449, 9839]
x_148 = [145, 351, 848, 1357, 2460, 2578, 2618, 2739, 2828, 2994, 3091, 3867, 4194, 4449, 4497, 4570, 4848, 5333, 5564, 6048, 6307, 6335, 6570, 6590, 6751, 7220, 7866, 8471, 8532, 8654, 8702, 9242, 9352, 9596, 9681]
x_147 = [303, 982, 2448, 2630, 2921, 3260, 4351, 4449, 4533, 5091, 5551, 6024, 7586, 7903, 7951, 9283, 9324]
x_146 = [85, 812, 2590, 2630, 4606, 4703, 5200, 5636, 5830, 6763, 7805, 8037, 8122, 8438, 8646, 9023]
x_145 = [1673, 3151, 3806, 4388, 5491, 6533, 7549]
x_144 = [12, 2606, 2994, 3163, 5721, 5762, 6376]
x_143 = [6109]
x_142 = [5054]
x_141 = [5430, 5612]
x_140 = [85]

samples = {6185: x_185, 6184: x_184, 6183: x_183, 6182: x_182, 6181: x_181, 6180: x_180,
           6179: x_179, 6178: x_178, 6177: x_177, 6176: x_176, 6175: x_175, 6174: x_174,
           6173: x_173, 6172: x_172, 6171: x_171, 6170: x_170, 6169: x_169, 6168: x_168,
           6167: x_167, 6166: x_166, 6165: x_165, 6164: x_164, 6163: x_163, 6162: x_162,
           6161: x_161, 6160: x_160, 6159: x_159, 6158: x_158, 6157: x_157, 6156: x_156,
           6155: x_155, 6154: x_154, 6153: x_153, 6152: x_152, 6151: x_151, 6150: x_150,
           6149: x_149, 6148: x_148, 6147: x_147, 6146: x_146, 6145: x_145, 6144: x_144,
           6143: x_143, 6142: x_142, 6141: x_141, 6140: x_140}

xs = []
ys = []
for level, row in samples.items():
    xs += row
    ys += [level] * len(row)

plt.figure(figsize=(10, 10))
plt.plot(xs, ys, 'k.', label='Samples\n$\\mu$ = 6162.87, $\\sigma$ = 6.19')
plt.grid()
plt.title('Run 647, channel098, Pedestal')
plt.xlabel('Sample #')
plt.ylabel('ADC Counts')
plt.legend(loc='upper right')
plt.subplots_adjust(left=0.081, right=0.985, top=0.965, bottom=0.058)
plt.savefig('out.png', dpi=100)
